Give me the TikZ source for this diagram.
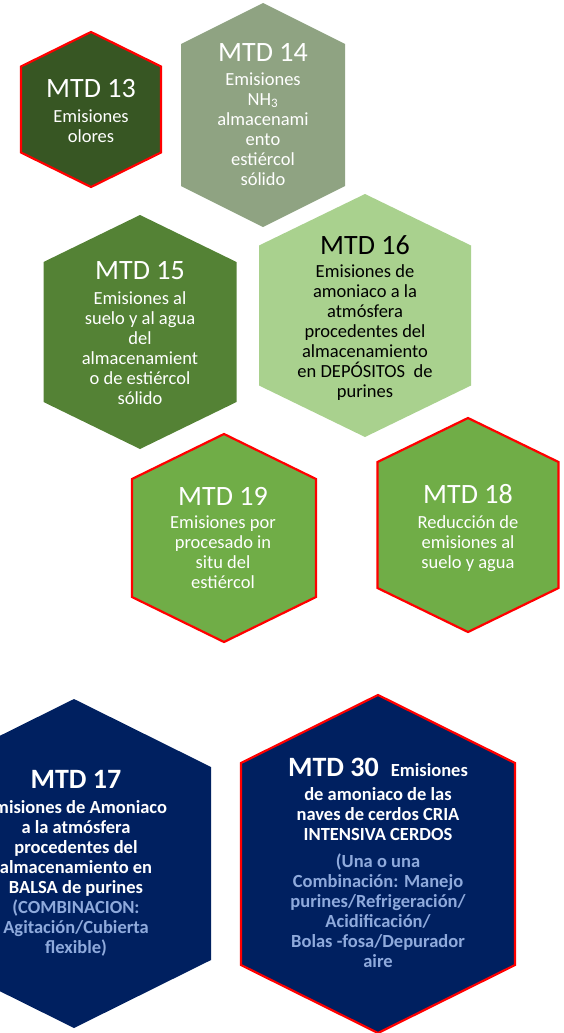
\documentclass[tikz,border=0pt]{standalone}
\usepackage{fontspec}
\setmainfont{Carlito}
\definecolor{mtdred}{HTML}{FF0000}
\definecolor{mtddark}{HTML}{375623}
\definecolor{mtdgrey}{HTML}{8FA382}
\definecolor{mtdmid}{HTML}{548235}
\definecolor{mtdpale}{HTML}{A9D18E}
\definecolor{mtdgreen}{HTML}{70AD47}
\definecolor{mtdnavy}{HTML}{002060}
\definecolor{mtdsky}{HTML}{8FAADC}
\def\hexa[#1](#2,#3)(#4:#5:#6){\path[#1] ({#2},{#3-#5}) -- ({#2+#4},{#3-#6}) -- ({#2+#4},{#3+#6}) -- ({#2},{#3+#5}) -- ({#2-#4},{#3+#6}) -- ({#2-#4},{#3-#6}) -- cycle;}
\newcommand\mtdtitle{\fontsize{28}{32}\selectfont}

\begin{document}
\begin{tikzpicture}[x=1pt,y=-1pt,
	mtdtxt/.style={align=center, inner sep=0pt, anchor=north, text=white, font=\fontsize{18.5}{20}\selectfont},
	redline/.style={draw=mtdred, line width=2.2pt}]
		\useasboundingbox (0,0) rectangle (563,1033);
		\clip (0,0) rectangle (563,1033);
		%%%%% HEXAGONS %%%%%
		\hexa[fill=mtddark, redline](91,109.5)(70:77.5:43)
		\hexa[fill=mtdgrey](263,115)(82:112:71)
		\hexa[fill=mtdmid](140,332)(96.5:117:70)
		\hexa[fill=mtdpale](365,315.5)(106:121.5:70)
		\hexa[fill=mtdgreen, redline](224,538)(92:104:59)
		\hexa[fill=mtdgreen, redline](468,525)(90.5:107:63)
		\hexa[fill=mtdnavy](74,863.5)(137:164.5:96.5)
		\hexa[fill=mtdnavy, redline](378,864)(137:169:101)
		
		%%%%% TEXTS (top of title line) %%%%%
		\node[mtdtxt] (m13) at (91,79) {{\mtdtitle MTD 13}\\[5pt]Emisiones\\olores};
		\node[mtdtxt] (m14) at (263,43) {{\mtdtitle MTD 14}\\[4pt]Emisiones\\NH\textsubscript{3}\\almacenami\\ento\\estiércol\\sólido};
		\node[mtdtxt] (m15) at (140,261) {{\mtdtitle MTD 15}\\[5pt]Emisiones al\\suelo y al agua\\del\\almacenamient\\o de estiércol\\sólido};
		\node[mtdtxt, text=black] (m16) at (365,235) {{\mtdtitle MTD 16}\\[3pt]Emisiones de\\amoniaco a la\\atmósfera\\procedentes del\\almacenamiento\\en DEPÓSITOS~ de\\purines};
		\node[mtdtxt] (m19) at (223,487) {{\mtdtitle MTD 19}\\[3pt]Emisiones por\\procesado in\\situ del\\estiércol};
		\node[mtdtxt] (m18) at (468,484) {{\mtdtitle MTD 18}\\[5pt]Reducción de\\emisiones al\\suelo y agua};
		\node[mtdtxt, font=\fontsize{18.5}{20}\selectfont\bfseries] (m17) at (76,770) {{\mtdtitle MTD 17}\\[5pt]Emisiones de Amoniaco\\a la atmósfera\\procedentes del\\almacenamiento en\\BALSA de purines\\\textcolor{mtdsky}{(COMBINACION:}\\\textcolor{mtdsky}{Agitación/Cubierta}\\\textcolor{mtdsky}{flexible)}};
		\node[mtdtxt, font=\fontsize{18.5}{20}\selectfont\bfseries] (m30) at (378,758) {{\mtdtitle MTD 30}\hspace{12pt}Emisiones\\[4pt]de amoniaco de las\\naves de cerdos CRIA\\INTENSIVA CERDOS\\[7pt]\textcolor{mtdsky}{(Una o una}\\\textcolor{mtdsky}{Combinación: Manejo}\\\textcolor{mtdsky}{purines/Refrigeración/}\\\textcolor{mtdsky}{Acidificación/}\\\textcolor{mtdsky}{Bolas -fosa/Depurador}\\\textcolor{mtdsky}{aire}};
	\end{tikzpicture}
\end{document}
